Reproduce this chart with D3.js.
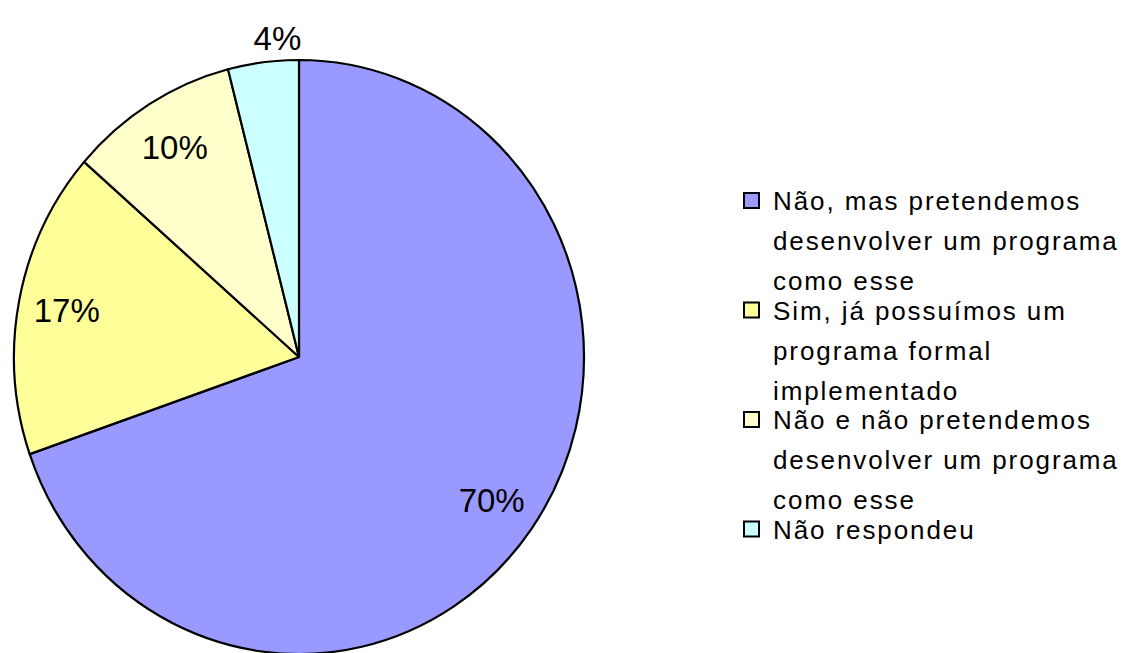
<!DOCTYPE html>
<html>
<head>
<meta charset="utf-8">
<script src="https://cdn.jsdelivr.net/npm/d3@7"></script>
<style>
  body { margin: 0; background: #fff; }
  svg text { font-family: "Liberation Sans", Arial, sans-serif; fill: #000; }
</style>
</head>
<body>
<div id="chart"></div>
<script>
// Data (share of answers, %)
const categories = [
    "Não, mas pretendemos desenvolver um programa como esse",
    "Sim, já possuímos um programa formal implementado",
    "Não e não pretendemos desenvolver um programa como esse",
    "Não respondeu"
];
const values = [69.7, 16.7, 9.6, 4.0];
const valueLabels = ["70%", "17%", "10%", "4%"];
const legendLines = [
    ["Não, mas pretendemos", "desenvolver um programa", "como esse"],
    ["Sim, já possuímos um", "programa formal", "implementado"],
    ["Não e não pretendemos", "desenvolver um programa", "como esse"],
    ["Não respondeu"]
];
const colors = ["#9999FF", "#FFFF99", "#FFFFCC", "#CCFFFF"];

const width = 1125, height = 653;
const cx = 299, cy = 357;
const rx = 285, ry = 297;   // pie is slightly taller than wide

const svg = d3.select("#chart")
    .append("svg")
    .attr("width", width)
    .attr("height", height);

const colorScale = d3.scaleOrdinal().domain(categories).range(colors);

const pie = d3.pie().sort(null).value(d => d.value);
const data = categories.map((c, i) => ({ name: c, value: values[i], label: valueLabels[i] }));
const arcs = pie(data);

// Draw on a unit-radius arc, then stretch to the ellipse
const arc = d3.arc().innerRadius(0).outerRadius(1);

const pieG = svg.append("g")
    .attr("transform", `translate(${cx},${cy}) scale(${rx},${ry})`);

pieG.selectAll("path")
    .data(arcs)
    .join("path")
    .attr("d", arc)
    .attr("fill", d => colorScale(d.data.name))
    .attr("stroke", "#000")
    .attr("stroke-width", 2.2)
    .attr("vector-effect", "non-scaling-stroke")
    .attr("stroke-linejoin", "round");

// Percent labels: inside for big slices, just outside the rim for small ones
const labelPos = (d) => {
    const a = (d.startAngle + d.endAngle) / 2;
    const outside = d.data.value < 5;
    const r = outside ? 1.08 : 0.83;
    const nudge = outside ? 17 : 0; // outside label sits closer to the top
    return [cx + Math.sin(a) * rx * r + nudge, cy - Math.cos(a) * ry * r];
};

svg.selectAll(".pct")
    .data(arcs)
    .join("text")
    .attr("class", "pct")
    .attr("x", d => labelPos(d)[0])
    .attr("y", d => labelPos(d)[1])
    .attr("text-anchor", "middle")
    .attr("dominant-baseline", "central")
    .style("font-size", "33px")
    .text(d => d.data.label);

// Legend
const legend = svg.append("g")
    .attr("transform", "translate(744, 210)");

categories.forEach((c, i) => {
    const g = legend.append("g").attr("transform", `translate(0, ${i * 109.5})`);

    g.append("rect")
        .attr("x", 0)
        .attr("y", -17)
        .attr("width", 15)
        .attr("height", 15)
        .attr("fill", colorScale(c))
        .attr("stroke", "#000")
        .attr("stroke-width", 2);

    g.append("text")
        .style("font-size", "26px")
        .style("letter-spacing", "1.9px")
        .selectAll("tspan")
        .data(legendLines[i])
        .join("tspan")
        .attr("x", 29)
        .attr("y", (d, j) => j * 40)
        .text(d => d);
});
</script>
</body>
</html>
